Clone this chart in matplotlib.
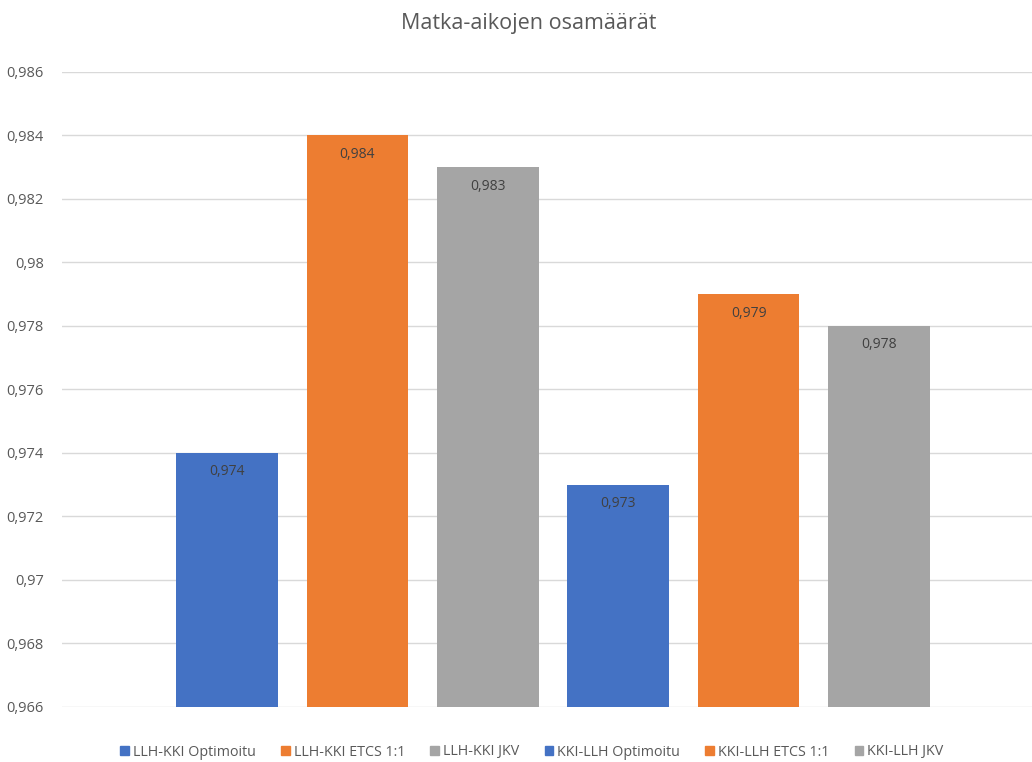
import matplotlib.pyplot as plt
from matplotlib.patches import Patch

plt.rcParams['font.family'] = ['Open Sans', 'DejaVu Sans']

series = ["LLH-KKI Optimoitu", "LLH-KKI ETCS 1:1", "LLH-KKI JKV",
          "KKI-LLH Optimoitu", "KKI-LLH ETCS 1:1", "KKI-LLH JKV"]
values = [0.974, 0.984, 0.983, 0.973, 0.979, 0.978]
colors = ["#4472C4", "#ED7D31", "#A5A5A5", "#4472C4", "#ED7D31", "#A5A5A5"]
yticks = [0.966, 0.968, 0.970, 0.972, 0.974, 0.976, 0.978, 0.980, 0.982, 0.984, 0.986]


def fi(v):
    return ("%g" % round(v, 6)).replace(".", ",")


fig = plt.figure(figsize=(10.32, 7.62), dpi=100)
# plot area runs a bit past the right edge of the figure
ax = fig.add_axes([62 / 1032, 1 - 707 / 762, (1044 - 62) / 1032, (707 - 72) / 762])

x = list(range(len(series)))
bars = ax.bar(x, [v - yticks[0] for v in values], bottom=yticks[0],
              width=0.78, color=colors, zorder=2)

for b, v in zip(bars, values):
    ax.annotate(fi(v), (b.get_x() + b.get_width() / 2, v),
                xytext=(0, -19), textcoords="offset pixels",
                ha="center", va="center", fontsize=10, color="#404040", zorder=3)

ax.set_ylim(yticks[0], yticks[-1])
ax.set_xlim(-1.265, 6.265)
ax.set_yticks(yticks)
ax.set_yticklabels([fi(t) for t in yticks])
ax.set_xticks([])
ax.tick_params(axis="y", length=0, pad=13, labelsize=10.5, labelcolor="#595959")
ax.grid(axis="y", color="#D9D9D9", linewidth=1, zorder=0)
for s in ax.spines.values():
    s.set_visible(False)

fig.text(529 / 1032, 1 - 23 / 762, "Matka-aikojen osamäärät",
         ha="center", va="center", fontsize=15.5, color="#595959")

handles = [Patch(color=c, label=s) for s, c in zip(series, colors)]
fig.legend(handles=handles, loc="center", bbox_to_anchor=(532 / 1032, 1 - 752 / 762),
           ncol=6, frameon=False, fontsize=10.3, labelcolor="#595959",
           handlelength=0.6, handleheight=0.6, handletextpad=0.3, columnspacing=1.75)

fig.savefig("out.png", dpi=100)
